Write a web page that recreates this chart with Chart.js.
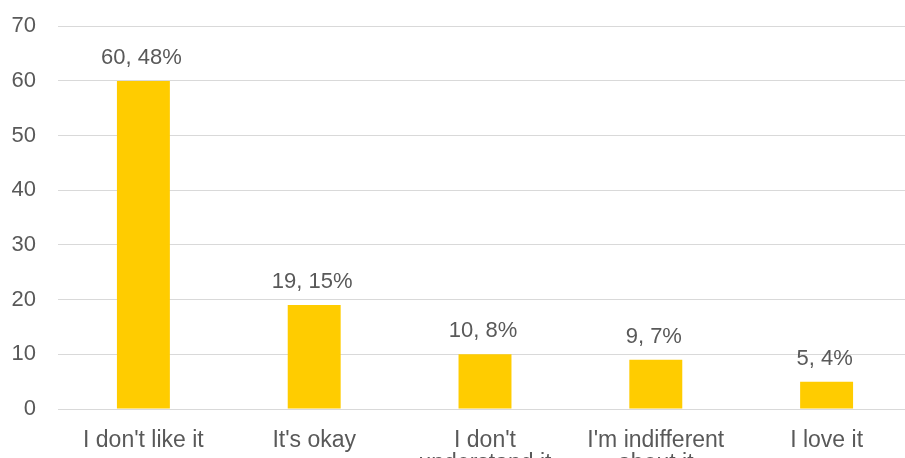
<!DOCTYPE html>
<html>
<head>
<meta charset="utf-8">
<script src="https://cdn.jsdelivr.net/npm/chart.js@4.4.1/dist/chart.umd.min.js"></script>
<style>
  html, body { margin: 0; padding: 0; background: #fff; overflow: hidden; }
  #wrap { width: 912px; height: 496px; margin-top: -9px; }
</style>
</head>
<body>
<div id="wrap"><canvas id="BarChart" width="912" height="496"></canvas></div>
<script>
const categories = ["I don't like it", "It's okay", ["I don't", "understand it"], ["I'm indifferent", "about it"], "I love it"];
const counts = [60, 19, 10, 9, 5];
const percents = [48, 15, 8, 7, 4];
const yTicks = [0, 10, 20, 30, 40, 50, 60, 70];

const textColor = '#595959';
const fontFamily = '"Liberation Sans", Arial, sans-serif';

// draws "count, percent%" above each bar
const valueLabels = {
    id: 'valueLabels',
    afterDatasetsDraw(chart) {
        const ctx = chart.ctx;
        const meta = chart.getDatasetMeta(0);
        ctx.save();
        ctx.font = '22px ' + fontFamily;
        ctx.fillStyle = textColor;
        ctx.textAlign = 'center';
        ctx.textBaseline = 'bottom';
        meta.data.forEach(function (bar, i) {
            ctx.fillText(counts[i] + ', ' + percents[i] + '%', bar.x - 2, bar.y - 12);
        });
        ctx.restore();
    }
};

document.addEventListener('DOMContentLoaded', function () {
    const ctx = document.getElementById('BarChart').getContext('2d');
    new Chart(ctx, {
        type: 'bar',
        data: {
            labels: categories,
            datasets: [{
                data: counts,
                backgroundColor: '#FFCC00',
                barPercentage: 0.62,
                categoryPercentage: 0.5
            }]
        },
        options: {
            responsive: false,
            animation: false,
            devicePixelRatio: 1,
            layout: { padding: { top: 5, left: 0, right: 0, bottom: 0 } },
            plugins: {
                legend: { display: false },
                tooltip: { enabled: false }
            },
            scales: {
                x: {
                    grid: { display: false },
                    border: { color: '#d9d9d9', width: 1 },
                    ticks: {
                        color: textColor,
                        font: { size: 23, family: fontFamily, lineHeight: 1.0 },
                        maxRotation: 0,
                        autoSkip: false,
                        padding: 12
                    }
                },
                y: {
                    min: 0,
                    max: 70,
                    afterBuildTicks: function (scale) {
                        scale.ticks = yTicks.map(function (v) { return { value: v }; });
                    },
                    afterFit: function (scale) { scale.width = 58; },
                    grid: { color: '#d9d9d9', drawTicks: false },
                    border: { display: false },
                    ticks: {
                        color: textColor,
                        font: { size: 22, family: fontFamily },
                        padding: 22
                    }
                }
            }
        },
        plugins: [valueLabels]
    });
});
</script>
</body>
</html>
